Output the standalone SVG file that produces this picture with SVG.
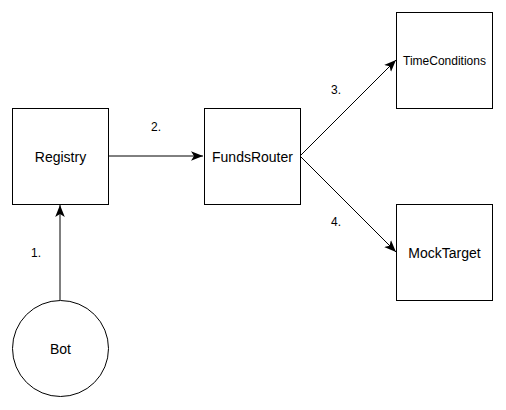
<svg xmlns="http://www.w3.org/2000/svg" width="506" height="410" viewBox="0 0 506 410">
<style>
.box{fill:#fff;stroke:#000;stroke-width:1}
.t{font-family:"Liberation Sans",Arial,sans-serif;font-size:14px;fill:#000;text-anchor:middle;dominant-baseline:central}
.s{font-size:12px}
.l{font-family:"Liberation Sans",Arial,sans-serif;font-size:12px;fill:#000;text-anchor:middle;dominant-baseline:central}
.c{fill:none;stroke:#000;stroke-width:1}
</style>
<defs>
<marker id="a" markerUnits="userSpaceOnUse" markerWidth="12" markerHeight="10" viewBox="0 0 10 8" refX="10" refY="4" orient="auto">
<path d="M0,0 L10,4 L0,8 L2.5,4 Z" fill="#000"/>
</marker>
</defs>
<rect width="506" height="410" fill="#fff"/>
<g id="connectors">
<line class="c" x1="60" y1="300" x2="60" y2="205" marker-end="url(#a)"/>
<line class="c" x1="108" y1="156" x2="203" y2="156" marker-end="url(#a)"/>
<line class="c" x1="300" y1="156" x2="396" y2="60" marker-end="url(#a)"/>
<line class="c" x1="300" y1="156" x2="396" y2="252" marker-end="url(#a)"/>
<text class="l" x="36" y="253">1.</text>
<text class="l" x="156" y="127">2.</text>
<text class="l" x="336" y="90">3.</text>
<text class="l" x="336" y="222">4.</text>
</g>
<g id="registry"><rect class="box" x="12.5" y="108.5" width="96" height="96"/><text class="t" x="60.5" y="156.5">Registry</text></g>
<g id="fundsrouter"><rect class="box" x="204.5" y="108.5" width="96" height="96"/><text class="t" x="252.5" y="156.5">FundsRouter</text></g>
<g id="timeconditions"><rect class="box" x="396.5" y="12.5" width="96" height="96"/><text class="t s" x="444.5" y="60.5">TimeConditions</text></g>
<g id="mocktarget"><rect class="box" x="396.5" y="204.5" width="96" height="96"/><text class="t" x="444.5" y="252.5">MockTarget</text></g>
<g id="bot"><circle class="box" cx="60.5" cy="348.5" r="48"/><text class="t" x="60.5" y="348.5">Bot</text></g>
</svg>
